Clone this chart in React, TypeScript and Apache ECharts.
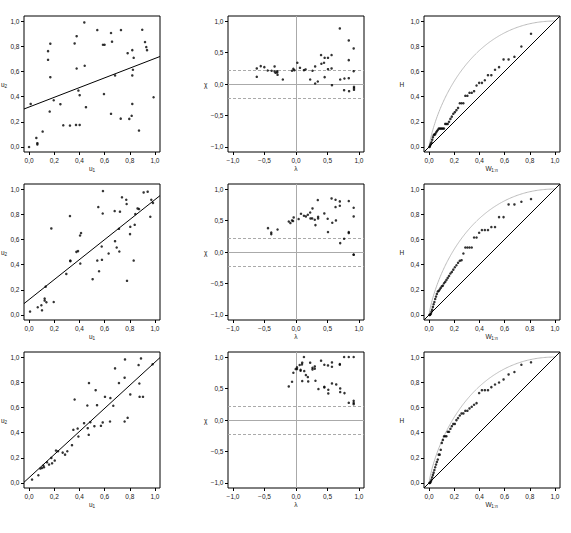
import React, { useEffect, useRef } from "react";
import * as echarts from "echarts";

// ---------- data ----------
// Row 1: pseudo-observations (u1, u2)
const uRow1: number[][] = [
  [0.0, 0.0], [0.013, 0.342], [0.058, 0.072], [0.066, 0.02], [0.066, 0.03], [0.108, 0.122],
  [0.151, 0.761], [0.151, 0.692], [0.169, 0.82], [0.169, 0.554], [0.164, 0.281], [0.196, 0.371],
  [0.249, 0.34], [0.272, 0.172], [0.325, 0.17], [0.362, 0.822], [0.378, 0.88], [0.378, 0.623],
  [0.373, 0.175], [0.392, 0.448], [0.402, 0.411], [0.402, 0.175], [0.439, 0.989], [0.442, 0.645],
  [0.452, 0.316], [0.542, 0.928], [0.587, 0.812], [0.6, 0.812], [0.595, 0.42], [0.651, 0.905],
  [0.659, 0.836], [0.651, 0.263], [0.683, 0.568], [0.73, 0.928], [0.728, 0.225], [0.783, 0.745],
  [0.796, 0.223], [0.82, 0.769], [0.831, 0.708], [0.82, 0.568], [0.825, 0.613], [0.82, 0.342],
  [0.815, 0.247], [0.873, 0.13], [0.899, 0.931], [0.921, 0.833], [0.931, 0.793], [0.937, 0.769],
  [0.989, 0.395],
];
const uRow2: number[][] = [
  [0.008, 0.027], [0.069, 0.061], [0.098, 0.077], [0.103, 0.037], [0.124, 0.13], [0.124, 0.114],
  [0.138, 0.101], [0.132, 0.225], [0.196, 0.103], [0.177, 0.687], [0.296, 0.326], [0.325, 0.785],
  [0.328, 0.432], [0.328, 0.427], [0.376, 0.501], [0.389, 0.507], [0.405, 0.631], [0.413, 0.65],
  [0.407, 0.408], [0.505, 0.284], [0.542, 0.432], [0.55, 0.857], [0.556, 0.347], [0.577, 0.544],
  [0.579, 0.438], [0.585, 0.806], [0.587, 0.984], [0.632, 0.488], [0.68, 0.825], [0.683, 0.586],
  [0.696, 0.536], [0.717, 0.504], [0.714, 0.684], [0.722, 0.82], [0.738, 0.934], [0.772, 0.915],
  [0.775, 0.881], [0.778, 0.271], [0.804, 0.7], [0.802, 0.642], [0.831, 0.432], [0.839, 0.716],
  [0.844, 0.801], [0.862, 0.846], [0.873, 0.841], [0.91, 0.973], [0.942, 0.979], [0.963, 0.78],
  [0.971, 0.915], [0.984, 0.89],
];
const uRow3: number[][] = [
  [0.024, 0.027], [0.074, 0.061], [0.09, 0.114], [0.103, 0.119], [0.114, 0.138], [0.119, 0.125],
  [0.143, 0.164], [0.159, 0.146], [0.177, 0.199], [0.183, 0.156], [0.204, 0.178], [0.214, 0.257],
  [0.23, 0.252], [0.267, 0.241], [0.286, 0.225], [0.304, 0.252], [0.341, 0.3], [0.352, 0.422],
  [0.362, 0.663], [0.386, 0.432], [0.392, 0.369], [0.437, 0.475], [0.463, 0.615], [0.466, 0.435],
  [0.474, 0.382], [0.476, 0.793], [0.487, 0.483], [0.519, 0.451], [0.529, 0.737], [0.54, 0.618],
  [0.571, 0.454], [0.585, 0.481], [0.603, 0.684], [0.646, 0.674], [0.643, 0.488], [0.669, 0.613],
  [0.683, 0.91], [0.714, 0.793], [0.759, 0.836], [0.762, 0.981], [0.759, 0.488], [0.783, 0.517],
  [0.804, 0.703], [0.87, 0.936], [0.876, 0.79], [0.878, 0.684], [0.889, 0.989], [0.905, 0.684],
  [0.981, 0.942],
];
// Fitted straight lines (intercept, slope)
const fitIntercepts = [0.317, 0.122, 0.042];
const fitSlopes = [0.386, 0.794, 0.917];

// Chi-plots (lambda, chi)
const chiRow1: number[][] = [
  [-0.623, 0.247], [-0.623, 0.114], [-0.56, 0.284], [-0.503, 0.268], [-0.45, 0.215], [-0.387, 0.21],
  [-0.34, 0.279], [-0.34, 0.199], [-0.325, 0.178], [-0.298, 0.204], [-0.298, 0.183], [-0.293, 0.146],
  [-0.209, 0.072], [-0.063, 0.21], [-0.042, 0.241], [-0.026, 0.22], [0.021, 0.337], [0.063, 0.257],
  [0.126, 0.22], [0.152, 0.231], [0.225, 0.072], [0.262, 0.21], [0.304, 0.279], [0.304, 0.008],
  [0.346, 0.04], [0.398, 0.459], [0.403, 0.321], [0.445, 0.337], [0.455, 0.416], [0.455, 0.109],
  [0.508, 0.416], [0.508, 0.236], [0.565, 0.459], [0.565, 0.247], [0.571, -0.019], [0.696, 0.883],
  [0.702, 0.072], [0.764, -0.098], [0.769, 0.088], [0.838, 0.692], [0.838, 0.379], [0.838, 0.093],
  [0.843, -0.114], [0.916, 0.565], [0.916, 0.204], [0.921, -0.045], [0.921, -0.066], [0.921, -0.093],
];
const chiRow2: number[][] = [
  [-0.445, 0.379], [-0.393, 0.31], [-0.393, 0.284], [-0.293, 0.358], [-0.115, 0.485], [-0.089, 0.459],
  [-0.063, 0.501], [-0.047, 0.491], [-0.037, 0.549], [0.042, 0.523], [0.079, 0.607], [0.126, 0.576],
  [0.157, 0.565], [0.188, 0.591], [0.225, 0.628], [0.23, 0.533], [0.257, 0.533], [0.262, 0.692],
  [0.298, 0.512], [0.309, 0.427], [0.346, 0.825], [0.351, 0.56], [0.351, 0.533], [0.45, 0.613],
  [0.503, 0.528], [0.508, 0.316], [0.565, 0.851], [0.576, 0.464], [0.628, 0.83], [0.628, 0.714],
  [0.634, 0.501], [0.696, 0.804], [0.696, 0.735], [0.702, 0.141], [0.764, 0.21], [0.838, 0.809],
  [0.838, 0.316], [0.838, 0.3], [0.916, 0.703], [0.916, 0.565], [0.916, -0.04], [0.916, -0.045],
];
const chiRow3: number[][] = [
  [-0.115, 0.533], [-0.063, 0.607], [-0.042, 0.751], [-0.005, 0.809], [0.016, 0.836], [0.016, 0.809],
  [0.058, 0.873], [0.073, 0.798], [0.073, 0.782], [0.094, 0.883], [0.099, 0.91], [0.099, 0.618],
  [0.131, 0.777], [0.126, 1.0], [0.157, 0.714], [0.188, 0.682], [0.194, 0.613], [0.225, 0.91],
  [0.262, 0.83], [0.262, 0.804], [0.298, 0.851], [0.298, 0.814], [0.309, 0.623], [0.356, 0.491],
  [0.398, 0.942], [0.45, 0.878], [0.45, 0.528], [0.45, 0.517], [0.508, 0.867], [0.513, 0.48],
  [0.513, 0.422], [0.571, 0.915], [0.571, 0.846], [0.571, 0.581], [0.639, 0.565], [0.696, 0.889],
  [0.696, 0.878], [0.702, 0.501], [0.702, 0.443], [0.764, 1.0], [0.77, 0.427], [0.838, 1.0],
  [0.838, 0.273], [0.916, 1.0], [0.916, 0.305], [0.916, 0.273], [0.916, 0.252],
];
const chiBand = 0.22;

// Kendall plots: W_{i:n} (shared) and sorted H per row
const wKendall = [
  0.003, 0.0065, 0.0106, 0.0151, 0.02, 0.0251, 0.0306, 0.0364, 0.0424, 0.0488,
  0.0554, 0.0623, 0.0695, 0.077, 0.0848, 0.0929, 0.1013, 0.11, 0.119, 0.1285,
  0.1382, 0.1483, 0.1588, 0.1697, 0.181, 0.1927, 0.2048, 0.2174, 0.2304, 0.244,
  0.2581, 0.2728, 0.2883, 0.3045, 0.3213, 0.339, 0.3576, 0.3772, 0.398, 0.42,
  0.4432, 0.468, 0.4948, 0.524, 0.556, 0.5918, 0.6318, 0.678, 0.7333, 0.8098,
];
const hRow1 = [
  0, 0.005, 0.016, 0.027, 0.037, 0.058, 0.077, 0.093, 0.1, 0.1,
  0.114, 0.125, 0.135, 0.146, 0.146, 0.146, 0.146, 0.146, 0.146, 0.183,
  0.183, 0.183, 0.2, 0.223, 0.241, 0.263, 0.276, 0.292, 0.31, 0.347,
  0.347, 0.347, 0.406, 0.406, 0.43, 0.43, 0.443, 0.488, 0.509, 0.509,
  0.53, 0.57, 0.57, 0.613, 0.634, 0.695, 0.695, 0.716, 0.798, 0.899,
];
const hRow2 = [
  0, 0, 0.005, 0.011, 0.027, 0.042, 0.064, 0.085, 0.103, 0.127,
  0.146, 0.167, 0.186, 0.191, 0.202, 0.215, 0.228, 0.233, 0.252, 0.263,
  0.278, 0.294, 0.31, 0.329, 0.342, 0.36, 0.379, 0.395, 0.414, 0.43,
  0.435, 0.488, 0.536, 0.536, 0.536, 0.536, 0.615, 0.615, 0.653, 0.674,
  0.674, 0.674, 0.698, 0.698, 0.777, 0.777, 0.878, 0.878, 0.899, 0.92,
];
const hRow3 = [
  0, 0, 0.005, 0.013, 0.027, 0.045, 0.064, 0.082, 0.103, 0.125,
  0.146, 0.167, 0.186, 0.225, 0.225, 0.263, 0.318, 0.342, 0.371, 0.371,
  0.371, 0.406, 0.406, 0.43, 0.451, 0.469, 0.469, 0.499, 0.515, 0.536,
  0.552, 0.552, 0.573, 0.573, 0.592, 0.605, 0.621, 0.634, 0.714, 0.737,
  0.737, 0.737, 0.761, 0.782, 0.798, 0.822, 0.862, 0.881, 0.939, 0.958,
];

// Tick labels and axis titles
const unitTicks = [0, 0.2, 0.4, 0.6, 0.8, 1.0];
const chiTicks = [-1.0, -0.5, 0.0, 0.5, 1.0];
const xTitleMain = ["u", "\u03bb", "W"];
const xTitleSub = ["1", "", "1:n"];
const yTitleMain = ["u", "\u03c7", "H"];
const yTitleSub = ["2", "", ""];

const uData = [uRow1, uRow2, uRow3];
const chiData = [chiRow1, chiRow2, chiRow3];
const hData = [hRow1, hRow2, hRow3];

// ---------- layout ----------
const COL_X = [24, 228, 424];
const ROW_Y = [16, 184, 352];
const BOX = 136;
const Y_TITLE_X = [1, 204, 399.5];
const FONT = "'Liberation Sans', Arial, Helvetica, sans-serif";
const LABEL_COLOR = "#222";

function fmt(v: number): string {
  const s = Math.abs(v).toFixed(1).replace(".", ",");
  return v < 0 ? "\u2212" + s : s;
}

function title(x: number, y: number, main: string, sub: string, align: string): any[] {
  const els: any[] = [];
  const mainW = main === "W" ? 5.8 : 3.6;
  const subW = sub.length * 2.4;
  const total = mainW + (sub ? subW : 0);
  const x0 = align === "center" ? x - total / 2 : x;
  els.push({
    type: "text", x: x0, y, silent: true,
    style: { text: main, fontSize: 6.5, fontFamily: FONT, fill: LABEL_COLOR, textAlign: "left", textVerticalAlign: "middle" },
  });
  if (sub) {
    els.push({
      type: "text", x: x0 + mainW, y: y + 2.2, silent: true,
      style: { text: sub, fontSize: 4.6, fontFamily: FONT, fill: LABEL_COLOR, textAlign: "left", textVerticalAlign: "middle" },
    });
  }
  return els;
}

function buildOption() {
  const grid: any[] = [];
  const xAxis: any[] = [];
  const yAxis: any[] = [];
  const series: any[] = [];
  const graphic: any[] = [];

  for (let r = 0; r < 3; r++) {
    for (let c = 0; c < 3; c++) {
      const idx = r * 3 + c;
      grid.push({
        left: COL_X[c], top: ROW_Y[r], width: BOX, height: BOX,
        show: true, borderColor: "#000", borderWidth: 1, backgroundColor: "transparent",
      });
      const isChi = c === 1;
      const lo = isChi ? -1.08 : -0.04;
      const hi = isChi ? 1.08 : 1.04;
      const ticks = isChi ? chiTicks : unitTicks;
      const common = {
        type: "value", gridIndex: idx, min: lo, max: hi,
        splitLine: { show: false },
        axisLine: { show: false, onZero: false },
        axisTick: { show: true, inside: false, length: 3, customValues: ticks, lineStyle: { color: "#000", width: 1 } },
        axisLabel: {
          show: true, customValues: ticks, formatter: (v: number) => fmt(v),
          fontSize: 6.5, fontFamily: FONT, color: LABEL_COLOR, margin: 4.5,
        },
      };
      xAxis.push({ ...common, position: "bottom" });
      yAxis.push({ ...common, position: "left" });

      graphic.push(...title(COL_X[c] + BOX / 2, ROW_Y[r] + BOX + 16.5, xTitleMain[c], xTitleSub[c], "center"));
      graphic.push(...title(Y_TITLE_X[c], ROW_Y[r] + BOX / 2, yTitleMain[c], yTitleSub[c], "left"));

      const dot = { type: "scatter", xAxisIndex: idx, yAxisIndex: idx, symbol: "circle", symbolSize: 2.5, itemStyle: { color: "#000" }, silent: true, z: 5 };
      if (c === 0) {
        const a = fitIntercepts[r], b = fitSlopes[r];
        series.push({ ...dot, data: uData[r] });
        series.push({
          type: "line", xAxisIndex: idx, yAxisIndex: idx, showSymbol: false, silent: true,
          lineStyle: { color: "#000", width: 1 }, clip: true,
          data: [[lo, a + b * lo], [hi, a + b * hi]], z: 4,
        });
      } else if (c === 1) {
        series.push({
          ...dot, data: chiData[r],
          markLine: {
            silent: true, symbol: "none", label: { show: false }, animation: false,
            data: [
              { xAxis: 0, lineStyle: { color: "#aaa", type: "solid", width: 1 } },
              { yAxis: 0, lineStyle: { color: "#aaa", type: "solid", width: 1 } },
              { yAxis: chiBand, lineStyle: { color: "#aaa", type: [3, 2], width: 1 } },
              { yAxis: -chiBand, lineStyle: { color: "#aaa", type: [3, 2], width: 1 } },
            ],
          },
        });
      } else {
        const curve: number[][] = [];
        for (let k = 0; k <= 200; k++) {
          const w = k / 200;
          curve.push([w, w === 0 ? 0 : w - w * Math.log(w)]);
        }
        series.push({
          type: "line", xAxisIndex: idx, yAxisIndex: idx, showSymbol: false, silent: true,
          lineStyle: { color: "#bbb", width: 1 }, data: curve, z: 3,
        });
        series.push({
          type: "line", xAxisIndex: idx, yAxisIndex: idx, showSymbol: false, silent: true,
          lineStyle: { color: "#000", width: 1 }, data: [[lo, lo], [hi, hi]], z: 4,
        });
        series.push({ ...dot, data: wKendall.map((w, i) => [w, hData[r][i]]) });
      }
    }
  }
  return { animation: false, backgroundColor: "#fff", grid, xAxis, yAxis, series, graphic };
}

export default function App() {
  const ref = useRef<HTMLDivElement>(null);
  useEffect(() => {
    if (!ref.current) return;
    const chart = echarts.init(ref.current, null, { renderer: "svg" });
    chart.setOption(buildOption() as any);
    return () => chart.dispose();
  }, []);
  return (
    <div
      ref={ref}
      style={{ position: "fixed", left: 0, top: 0, width: 571, height: 533, background: "#fff" }}
    />
  );
}
